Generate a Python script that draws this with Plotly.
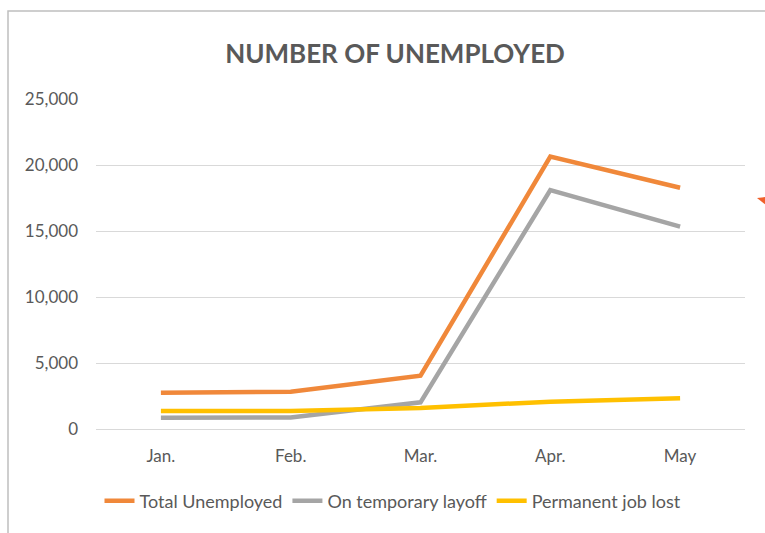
import plotly.graph_objects as go

months = ["Jan.", "Feb.", "Mar.", "Apr.", "May"]
total_unemployed = [2750, 2830, 4040, 20630, 18280]
temporary_layoff = [860, 870, 2020, 18100, 15330]
permanent_job_lost = [1360, 1360, 1600, 2070, 2330]

series = [
    ("Total Unemployed", total_unemployed, "#F0883A"),
    ("On temporary layoff", temporary_layoff, "#A5A5A5"),
    ("Permanent job lost", permanent_job_lost, "#FFC000"),
]

W, H = 765, 533
L, R, T, B = 96, 20, 99, 104
pw, ph = W - L - R, H - T - B

def px(x):
    return (x - L) / pw

def py(y):
    return (H - B - y) / ph

fig = go.Figure()
for name, vals, color in series:
    fig.add_trace(go.Scatter(
        x=months, y=vals, name=name, mode="lines",
        line=dict(color=color, width=4.5),
    ))

font_family = "Lato, 'Open Sans', sans-serif"
fig.update_layout(
    width=W, height=H,
    margin=dict(l=L, r=R, t=T, b=B),
    paper_bgcolor="white", plot_bgcolor="white",
    font=dict(family=font_family, color="#595959", size=17),
    title=dict(text="<b>NUMBER OF UNEMPLOYED</b>", x=px(395), xanchor="center",
               xref="paper",
               y=1 - 54 / H, yanchor="middle",
               font=dict(size=26, color="#595959", family=font_family)),
    showlegend=True,
    legend=dict(orientation="h", x=px(393), xanchor="center",
                y=py(501), yanchor="middle",
                font=dict(size=18, color="#595959"), itemwidth=30,
                tracegroupgap=0),
    xaxis=dict(type="category", range=[-0.5, 4.5], showgrid=False,
               showline=False, zeroline=False, ticks="",
               ticklabelstandoff=15, tickfont=dict(size=17, color="#595959")),
    yaxis=dict(range=[0, 25000], dtick=5000, tickformat=",",
               showgrid=True, gridcolor="#D9D9D9", gridwidth=1,
               zeroline=True, zerolinecolor="#D9D9D9", zerolinewidth=1,
               showline=False, ticks="", ticklabelstandoff=17,
               tickfont=dict(size=17, color="#595959")),
    shapes=[
        dict(type="path", xref="paper", yref="paper",
             path=f"M {px(8)} {py(540)} L {px(8)} {py(11)} L {px(770)} {py(11)}",
             line=dict(color="#BFBFBF", width=1.5)),
        dict(type="path", xref="paper", yref="paper",
             path=f"M {px(757)} {py(198)} L {px(766)} {py(197)} L {px(766)} {py(205)} Z",
             fillcolor="#F0602A", line=dict(width=0)),
    ],
)

fig.write_html("out.html")
